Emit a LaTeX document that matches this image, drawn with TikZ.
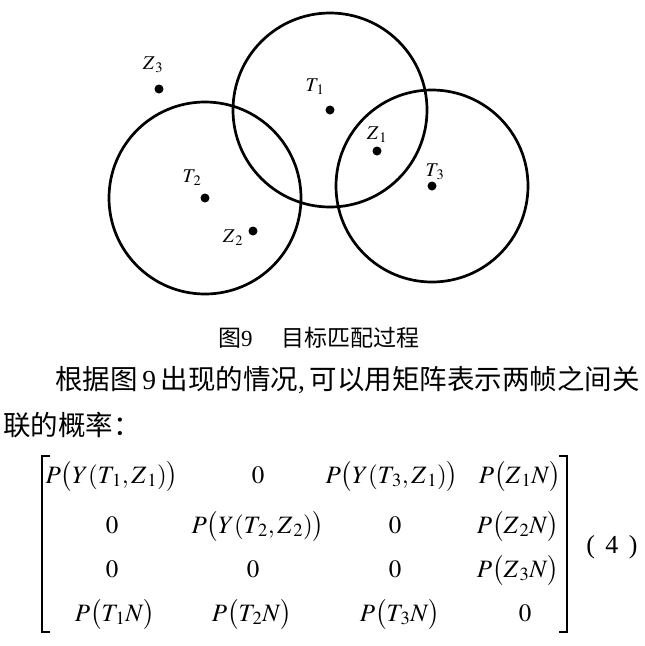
\documentclass[tikz,border=0pt]{standalone}
\usepackage{amsmath}
\usepackage{mathptmx}
\usepackage{fontspec}
\setmainfont{Liberation Serif}
\newfontfamily\cjk{Noto Sans CJK SC}
\usetikzlibrary{calc}

\begin{document}
\begin{tikzpicture}[x=1pt, y=-1pt,
	ring/.style={line width=2.7pt},
	lbl/.style={font=\fontsize{19.5}{22}\selectfont, inner sep=0pt},
	ent/.style={font=\fontsize{25}{30}\selectfont, inner sep=0pt, anchor=base},
	brk/.style={line width=1.4pt},
	captxt/.style={font=\fontsize{23}{26}\selectfont, inner sep=0pt, anchor=west},
	body/.style={font=\fontsize{27.5}{31}\selectfont, inner sep=0pt, anchor=west}]
	\useasboundingbox (0,0) rectangle (645,646);

	\coordinate (T1) at (330,110);
	\coordinate (T2) at (205,198);
	\coordinate (T3) at (432,186);
	\coordinate (Z1) at (377,151);
	\coordinate (Z2) at (253,231);
	\coordinate (Z3) at (159,89);

	\draw [ring] (T1) circle (97pt);
	\draw [ring] (T2) circle (96pt);
	\draw [ring] (T3) circle (96pt);

	\fill (T1) circle (4.5pt);
	\fill (T2) circle (4.5pt);
	\fill (T3) circle (4.5pt);
	\fill (Z1) circle (4.5pt);
	\fill (Z2) circle (4.5pt);
	\fill (Z3) circle (4.5pt);

	\node [lbl] (t1) at (315,87) {$T_{\,1}$};
	\node [lbl] (t2) at (192,178) {$T_{\,2}$};
	\node [lbl] (t3) at (435,172) {$T_{\,3}$};
	\node [lbl] (z1) at (377,135) {$Z_{\,1}$};
	\node [lbl] (z2) at (233,238) {$Z_{\,2}$};
	\node [lbl] (z3) at (153,65) {$Z_{\,3}$};

	% caption and text
	\node [captxt] (cap) at (218,338) {{\cjk 图}9\hspace{1.25em}{\cjk 目标匹配过程}};
	\node [body] (line1) at (55,380) {{\cjk 根据图}\,9\,{\cjk 出现的情况},\,{\cjk 可以用矩阵表示两帧之间关}};
	\node [body] (line2) at (3,425) {{\cjk 联的概率：}};

	% matrix
	\node [ent] (m11) at (112,483) {$P\bigl(Y(T_{\,1},Z_{\,1})\bigr)$};
	\node [ent] (m12) at (258,483) {$0$};
	\node [ent] (m13) at (392,483) {$P\bigl(Y(T_{\,3},Z_{\,1})\bigr)$};
	\node [ent] (m14) at (520,483) {$P\bigl(Z_{\,1}N\bigr)$};
	\node [ent] (m21) at (112,533) {$0$};
	\node [ent] (m22) at (258,533) {$P\bigl(Y(T_{\,2},Z_{\,2})\bigr)$};
	\node [ent] (m23) at (395,533) {$0$};
	\node [ent] (m24) at (518,533) {$P\bigl(Z_{\,2}N\bigr)$};
	\node [ent] (m31) at (112,577) {$0$};
	\node [ent] (m32) at (253,577) {$0$};
	\node [ent] (m33) at (395,577) {$0$};
	\node [ent] (m34) at (518,577) {$P\bigl(Z_{\,3}N\bigr)$};
	\node [ent] (m41) at (115,621) {$P\bigl(T_{\,1}N\bigr)$};
	\node [ent] (m42) at (252,621) {$P\bigl(T_{\,2}N\bigr)$};
	\node [ent] (m43) at (400,621) {$P\bigl(T_{\,3}N\bigr)$};
	\node [ent] (m44) at (525,621) {$0$};

	\coordinate (LT) at (42,456);
	\coordinate (LB) at (42,632);
	\coordinate (RT) at (567,456);
	\coordinate (RB) at (567,632);
	\draw [brk] ($(LT)+(8,0)$) -- (LT) -- (LB) -- ($(LB)+(8,0)$);
	\draw [brk] ($(RT)+(-8,0)$) -- (RT) -- (RB) -- ($(RB)+(-8,0)$);

	\node [font=\fontsize{26}{30}\selectfont, inner sep=0pt] (eqno) at (612,547) {(\hspace{.4em}4\hspace{.4em})};
\end{tikzpicture}
\end{document}
